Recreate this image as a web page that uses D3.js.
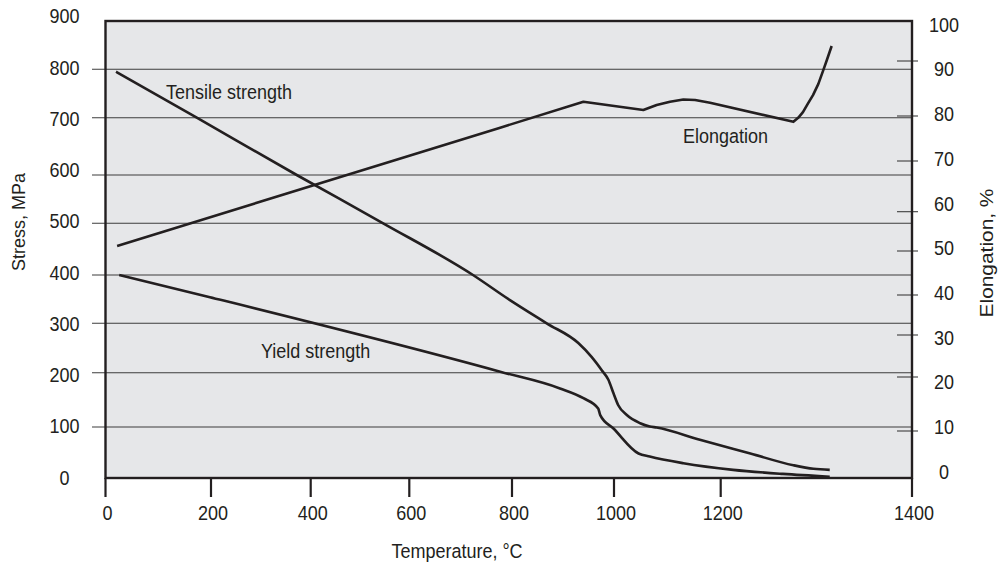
<!DOCTYPE html>
<html><head><meta charset="utf-8">
<script src="https://cdn.jsdelivr.net/npm/d3@7"></script>
<style>
html,body{margin:0;padding:0;background:#fff;}
svg{display:block;}
text{font-family:"Liberation Sans",Arial,Helvetica,sans-serif;fill:#231f20;}
</style></head><body>
<svg id="chart" width="1002" height="569"></svg>
<script>
// ---- data ----
const tempTicks   = [0,200,400,600,800,1000,1200,1400];
const stressTicks = [0,100,200,300,400,500,600,700,800,900];
const elongTicks  = [0,10,20,30,40,50,60,70,80,90,100];

const tensileTemp   = [20,173,372,547,724,796,868,930,956,976,989,999,1008,1024,1049,1067,1080,1161,1231,1276,1297,1314];
const tensileStress = [795,700,600,500,400,348,300,260,232,205,187,162,140,122,107,101,99,75,48,25,18,16];

const yieldTemp   = [26,198,777,894,940,969,973,999,1046,1067,1130,1213,1265,1314];
const yieldStress = [400,354,202,171,153,134,122,97,48,42,29,16,8,2.5];

const elongTemp = [22,777,940,1055,1080,1105,1130,1152,1180,1276,1281,1286,1291,1296.5,1302,1307,1311,1316];
const elongPct  = [51.3,77.4,82.6,81.1,82.0,82.6,83.0,82.9,82.4,78.7,79.6,80.7,82.2,83.8,85.8,88.2,90.25,93.75];

const labels = [
  {text:"Tensile strength", x:166, y:98.5},
  {text:"Yield strength",   x:261, y:358},
  {text:"Elongation",       x:683, y:143}
];

// ---- layout (axis breakpoints as drawn in the original, which is unevenly spaced) ----
const X_RANGE  = [105.5,211,310.7,409.3,512,614,720.7,912];
const YL_RANGE = [478,427,372.7,323.3,275,223.3,175,117.7,69.3,21];
const YR_RANGE = [478,431,377,335,295,251,211.7,161,116,61,21];
const STRETCH = 1.16;
const INK = "#231f20";

const x  = d3.scaleLinear().domain(tempTicks).range(X_RANGE);
const yL = d3.scaleLinear().domain(stressTicks).range(YL_RANGE);
const yR = d3.scaleLinear().domain(elongTicks).range(YR_RANGE);
const yLLab = d3.scaleLinear().domain([0,900]).range([477,15.8]);
const yRLab = d3.scaleLinear().domain([0,100]).range([471.3,24.2]);

const svg = d3.select("#chart");
const pL = X_RANGE[0], pR = X_RANGE[X_RANGE.length-1];
const pT = YL_RANGE[YL_RANGE.length-1], pB = YL_RANGE[0];

svg.append("rect").attr("x",pL).attr("y",pT).attr("width",pR-pL).attr("height",pB-pT)
  .attr("fill","#e6e7e9");

// gridlines (left axis), extend past the left border as ticks
svg.append("g").selectAll("line").data(stressTicks.filter(d=>d>0&&d<900)).join("line")
  .attr("x1",92).attr("x2",pR).attr("y1",d=>yL(d)).attr("y2",d=>yL(d))
  .attr("stroke","#3d3d3d").attr("stroke-width",1.1);

// right ticks
svg.append("g").selectAll("line").data(elongTicks.filter(d=>d>0&&d<100)).join("line")
  .attr("x1",897).attr("x2",918).attr("y1",d=>yR(d)).attr("y2",d=>yR(d))
  .attr("stroke","#3d3d3d").attr("stroke-width",1.1);

// curves
const lineL = d3.line().x(d=>x(d[0])).y(d=>yL(d[1])).curve(d3.curveMonotoneX);
const lineR = d3.line().x(d=>x(d[0])).y(d=>yR(d[1])).curve(d3.curveLinear);
svg.append("path").attr("d",lineL(d3.zip(tensileTemp,tensileStress)))
  .attr("fill","none").attr("stroke",INK).attr("stroke-width",2.6);
svg.append("path").attr("d",lineL(d3.zip(yieldTemp,yieldStress)))
  .attr("fill","none").attr("stroke",INK).attr("stroke-width",2.6);
svg.append("path").attr("d",lineR(d3.zip(elongTemp,elongPct)))
  .attr("fill","none").attr("stroke",INK).attr("stroke-width",2.6).attr("stroke-linejoin","round");

// border
svg.append("rect").attr("x",pL).attr("y",pT).attr("width",pR-pL).attr("height",pB-pT)
  .attr("fill","none").attr("stroke",INK).attr("stroke-width",2.4);

// bottom ticks
svg.append("g").selectAll("line").data(tempTicks).join("line")
  .attr("x1",d=>x(d)).attr("x2",d=>x(d)).attr("y1",pB).attr("y2",497)
  .attr("stroke",INK).attr("stroke-width",2.2);

function stretchedText(g, data, fx, fy, txt, anchor){
  return g.selectAll("text").data(data).join("text")
    .attr("transform",d=>`translate(${fx(d)},${fy(d)}) scale(1,${STRETCH})`)
    .attr("text-anchor",anchor).attr("font-size",18).text(txt);
}
stretchedText(svg.append("g"), tempTicks, d=>x(d)+2, d=>520, d=>d, "middle");
stretchedText(svg.append("g"), stressTicks, d=>64.5, d=>yLLab(d)+7.5, d=>d, "middle");
stretchedText(svg.append("g"), elongTicks, d=>944, d=>yRLab(d)+7.5, d=>d, "middle");
stretchedText(svg.append("g"), labels, d=>d.x, d=>d.y, d=>d.text, "start");

svg.append("text").attr("transform",`translate(457,558) scale(1,${STRETCH})`)
  .attr("text-anchor","middle").attr("font-size",18).text("Temperature, °C");
svg.append("text").attr("transform",`translate(25,222) rotate(-90)`)
  .attr("text-anchor","middle").attr("font-size",18).text("Stress, MPa");
svg.append("text").attr("transform",`translate(993,253) rotate(-90) scale(${STRETCH},1)`)
  .attr("text-anchor","middle").attr("font-size",18).text("Elongation, %");
</script>
</body></html>
